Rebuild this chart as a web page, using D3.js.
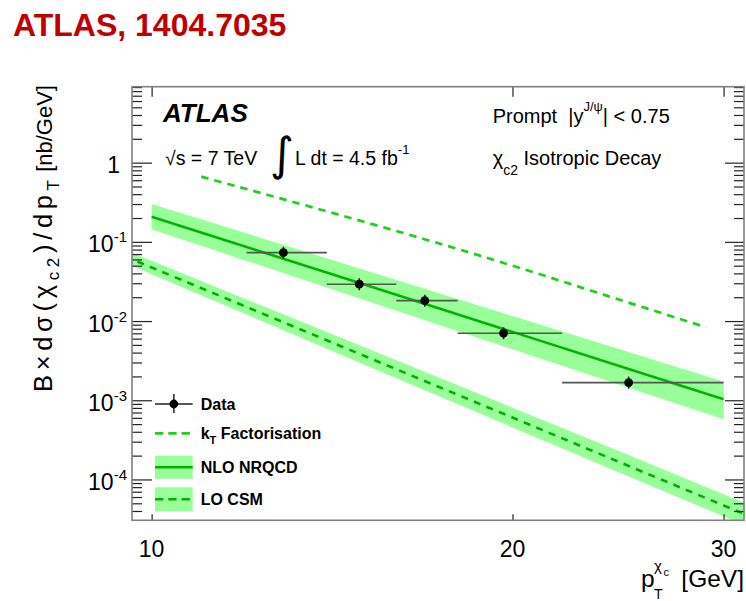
<!DOCTYPE html>
<html>
<head>
<meta charset="utf-8">
<script src="https://cdn.jsdelivr.net/npm/d3@7"></script>
<style>
  html, body { margin: 0; padding: 0; background: #fff; }
  svg { display: block; font-family: "Liberation Sans", Arial, sans-serif; }
</style>
</head>
<body>
<script>
// ---------- data ----------
const binCenters = [12.88, 14.9, 16.9, 19.66, 25.0];
const binLow     = [12, 14, 16, 18, 22];
const binHigh    = [14, 16, 18, 22, 30];
const dataValue  = [0.0731, 0.0292, 0.0181, 0.00702, 0.00167];
const dataErrUp  = [0.0139, 0.0055, 0.0034, 0.00133, 0.00032];
const dataErrDn  = [0.0117, 0.0047, 0.0029, 0.00112, 0.00027];

const nloPt      = [10, 12, 15, 20, 25, 30];
const nloCentral = [0.208, 0.0861, 0.0293, 0.0073, 0.00248, 0.00103];
const nloUp      = [0.301, 0.128, 0.0448, 0.01156, 0.00406, 0.00172];
const nloDown    = [0.144, 0.0575, 0.01875, 0.0044, 0.001435, 0.000574];

const ktPt       = [11, 14, 17, 20, 24, 29];
const ktValue    = [0.666, 0.243, 0.105, 0.0501, 0.0208, 0.00835];

const csmPt      = [9.5, 10, 12, 15, 20, 25, 31.5];
const csmCentral = [0.0656, 0.0475, 0.01507, 0.0037, 0.000605, 0.000148, 3.46e-5];
const csmUp      = [0.0789, 0.0578, 0.01875, 0.00476, 0.000807, 0.000203, 4.78e-5];
const csmDown    = [0.0546, 0.0391, 0.0121, 0.00287, 0.000454, 0.000109, 2.51e-5];

const xTickValues = [10, 20, 30];
const xTickLabels = ["10", "20", "30"];
const yTickValues = [1, 0.1, 0.01, 0.001, 0.0001];
const yTickExp    = ["", "-1", "-2", "-3", "-4"];

const legendLabels = ["Data", "kT Factorisation", "NLO NRQCD", "LO CSM"];

// ---------- layout ----------
const W = 746, H = 601;
const L = 132, R = 744, T = 86.7, B = 520.3;
const bandColor = "#99ff99";
const nloColor = "#00b400";
const ktColor = "#1ad21a";
const csmColor = "#00b000";

const svg = d3.select("body").append("svg").attr("width", W).attr("height", H);
svg.append("rect").attr("width", W).attr("height", H).attr("fill", "#fff");

const x = d3.scaleLog().domain([9.63, 31.2]).range([L, R]);
const y = d3.scaleLog().domain([3.05e-5, 9.1]).range([B, T]);

// title
svg.append("text").attr("x", 13).attr("y", 36)
  .attr("font-size", 32).attr("font-weight", "bold").attr("fill", "#c00000")
  .text("ATLAS, 1404.7035");

// clip
svg.append("clipPath").attr("id", "clip")
  .append("rect").attr("x", L).attr("y", T).attr("width", R - L).attr("height", B - T);
const plot = svg.append("g").attr("clip-path", "url(#clip)");

const area = d3.area().x(d => x(d.pt)).y0(d => y(d.lo)).y1(d => y(d.hi));
const line = d3.line().x(d => x(d.pt)).y(d => y(d.v));

// bands
const csm = csmPt.map((p, i) => ({pt: p, v: csmCentral[i], lo: csmDown[i], hi: csmUp[i]}));
plot.append("path").datum(csm).attr("d", area).attr("fill", bandColor);
const nlo = nloPt.map((p, i) => ({pt: p, v: nloCentral[i], lo: nloDown[i], hi: nloUp[i]}));
plot.append("path").datum(nlo).attr("d", area).attr("fill", bandColor);

plot.append("path").datum(csm).attr("d", line).attr("fill", "none")
  .attr("stroke", csmColor).attr("stroke-width", 2.6).attr("stroke-dasharray", "7,6.5");
plot.append("path").datum(nlo).attr("d", line).attr("fill", "none")
  .attr("stroke", nloColor).attr("stroke-width", 2.6);

// kT factorisation
const kt = ktPt.map((p, i) => ({pt: p, v: ktValue[i]}));
const ktLine = d3.line().x(d => x(d.pt)).y(d => y(d.v)).curve(d3.curveMonotoneX);
plot.append("path").datum(kt).attr("d", ktLine).attr("fill", "none")
  .attr("stroke", ktColor).attr("stroke-width", 2.7).attr("stroke-dasharray", "7.5,6");

// data points
const pts = binCenters.map((c, i) => ({c, lo: binLow[i], hi: binHigh[i], v: dataValue[i], up: dataErrUp[i], dn: dataErrDn[i]}));
const pg = plot.append("g");
pg.selectAll(".h").data(pts).join("line")
  .attr("x1", d => x(d.lo)).attr("x2", d => x(d.hi))
  .attr("y1", d => y(d.v)).attr("y2", d => y(d.v))
  .attr("stroke", "#555").attr("stroke-width", 1.6);
pg.selectAll(".v").data(pts).join("line")
  .attr("x1", d => x(d.c)).attr("x2", d => x(d.c))
  .attr("y1", d => y(d.v + d.up)).attr("y2", d => y(d.v - d.dn))
  .attr("stroke", "#222").attr("stroke-width", 1.6);
pg.selectAll("circle").data(pts).join("circle")
  .attr("cx", d => x(d.c)).attr("cy", d => y(d.v)).attr("r", 4.4).attr("fill", "#000");

// ---------- axes ----------
const minorY = y.ticks().filter(v => Math.abs(Math.log10(v) - Math.round(Math.log10(v))) > 1e-6);
function styleAxis(g) {
  g.select(".domain").remove();
  g.selectAll(".tick line").attr("stroke", "#222").attr("stroke-width", 1.2);
  g.selectAll(".tick text").remove();
}
svg.append("g").attr("transform", `translate(${L},0)`)
  .call(d3.axisRight(y).tickValues(yTickValues).tickSize(20).tickFormat("")).call(styleAxis);
svg.append("g").attr("transform", `translate(${L},0)`)
  .call(d3.axisRight(y).tickValues(minorY).tickSize(10).tickFormat("")).call(styleAxis);
svg.append("g").attr("transform", `translate(${R},0)`)
  .call(d3.axisLeft(y).tickValues(yTickValues).tickSize(19).tickFormat("")).call(styleAxis);
svg.append("g").attr("transform", `translate(${R},0)`)
  .call(d3.axisLeft(y).tickValues(minorY).tickSize(10).tickFormat("")).call(styleAxis);
svg.append("g").attr("transform", `translate(0,${B})`)
  .call(d3.axisTop(x).tickValues(xTickValues).tickSize(6).tickFormat("")).call(styleAxis);
svg.append("g").attr("transform", `translate(0,${T})`)
  .call(d3.axisBottom(x).tickValues(xTickValues).tickSize(10).tickFormat("")).call(styleAxis);

// frame
svg.append("rect").attr("x", L).attr("y", T).attr("width", R - L).attr("height", B - T)
  .attr("fill", "none").attr("stroke", "#808080").attr("stroke-width", 1.6);

// x tick labels
svg.selectAll(".xl").data(xTickValues).join("text")
  .attr("x", d => x(d)).attr("y", 557).attr("text-anchor", "middle")
  .attr("font-size", 23).attr("fill", "#000")
  .text((d, i) => xTickLabels[i]);

// y tick labels
yTickValues.forEach((v, i) => {
  const t = svg.append("text").attr("y", y(v) + 10.5).attr("font-size", 23).attr("fill", "#000");
  if (yTickExp[i] === "") {
    t.attr("x", 120).attr("text-anchor", "end").text("1");
  } else {
    t.attr("x", 127).attr("text-anchor", "end");
    t.append("tspan").text("10");
    t.append("tspan").attr("font-size", 15).attr("dy", -10).text(yTickExp[i]);
  }
});

// x axis title
const xt = svg.append("g");
xt.append("text").attr("x", 641).attr("y", 587).attr("font-size", 24.5).text("p");
xt.append("text").attr("x", 654).attr("y", 599).attr("font-size", 14).text("T");
xt.append("text").attr("x", 654).attr("y", 571).attr("font-size", 15).text("χ");
xt.append("text").attr("x", 663.5).attr("y", 576).attr("font-size", 11).text("c");
xt.append("text").attr("x", 744).attr("y", 587).attr("font-size", 24.5).attr("text-anchor", "end").text("[GeV]");

// y axis title
const yt1 = svg.append("text").attr("transform", "translate(52,392) rotate(-90)")
  .attr("font-size", 25.5).attr("fill", "#000")
  .attr("textLength", 212).attr("lengthAdjust", "spacing");
yt1.append("tspan").text("B×dσ(χ");
yt1.append("tspan").attr("font-size", 17).attr("dy", 7).text("c2");
yt1.append("tspan").attr("dy", -7).text(")/dp");
yt1.append("tspan").attr("font-size", 17).attr("dy", 7).text("T");
svg.append("text").attr("transform", "translate(52,85) rotate(-90)")
  .attr("text-anchor", "end").attr("font-size", 22).attr("fill", "#000")
  .text("[nb/GeV]");

// ---------- in-plot labels ----------
svg.append("text").attr("x", 163).attr("y", 121.7).attr("font-size", 26)
  .attr("font-weight", "bold").attr("font-style", "italic").text("ATLAS");
svg.append("text").attr("x", 165).attr("y", 165).attr("font-size", 19.5).text("√s = 7 TeV");
svg.append("text").attr("x", 270).attr("y", 170).attr("font-size", 46)
  .attr("font-family", "'DejaVu Sans', sans-serif").text("∫");
const lum = svg.append("text").attr("x", 295).attr("y", 165).attr("font-size", 19.5);
lum.append("tspan").text("L dt = 4.5 fb");
lum.append("tspan").attr("font-size", 13).attr("dy", -11).text("-1");

const pr = svg.append("text").attr("x", 492.7).attr("y", 122.7).attr("font-size", 20);
pr.append("tspan").text("Prompt\u00a0\u00a0|y");
pr.append("tspan").attr("font-size", 13).attr("dy", -12).text("J/ψ");
pr.append("tspan").attr("dy", 12).text("| < 0.75");

const ch = svg.append("text").attr("x", 492.7).attr("y", 165).attr("font-size", 20);
ch.append("tspan").text("χ");
ch.append("tspan").attr("font-size", 14).attr("dy", 10).text("c2");
ch.append("tspan").attr("dy", -10).text(" Isotropic Decay");

// ---------- legend ----------
const lg = svg.append("g");
const lx0 = 155, lx1 = 192.7, tx = 200.7;
const rowY = [404, 433.3, 467.3, 499.3];
lg.append("line").attr("x1", lx0).attr("x2", lx1).attr("y1", rowY[0]).attr("y2", rowY[0]).attr("stroke", "#222").attr("stroke-width", 1.5);
lg.append("line").attr("x1", (lx0 + lx1) / 2).attr("x2", (lx0 + lx1) / 2).attr("y1", rowY[0] - 10).attr("y2", rowY[0] + 9).attr("stroke", "#222").attr("stroke-width", 1.5);
lg.append("circle").attr("cx", (lx0 + lx1) / 2).attr("cy", rowY[0]).attr("r", 4.4).attr("fill", "#000");
lg.append("line").attr("x1", lx0).attr("x2", lx1).attr("y1", rowY[1]).attr("y2", rowY[1])
  .attr("stroke", ktColor).attr("stroke-width", 2.7).attr("stroke-dasharray", "8.3,5");
lg.append("rect").attr("x", lx0).attr("y", rowY[2] - 11.5).attr("width", lx1 - lx0).attr("height", 23).attr("fill", bandColor);
lg.append("line").attr("x1", lx0).attr("x2", lx1).attr("y1", rowY[2]).attr("y2", rowY[2]).attr("stroke", nloColor).attr("stroke-width", 2.6);
lg.append("rect").attr("x", lx0).attr("y", rowY[3] - 12).attr("width", lx1 - lx0).attr("height", 24).attr("fill", bandColor);
lg.append("line").attr("x1", lx0).attr("x2", lx1).attr("y1", rowY[3]).attr("y2", rowY[3])
  .attr("stroke", csmColor).attr("stroke-width", 2.6).attr("stroke-dasharray", "8.3,5");

const lt = rowY.map(v => v + 5.8);
lg.append("text").attr("x", tx).attr("y", lt[0]).attr("font-size", 16).attr("font-weight", "bold").text(legendLabels[0]);
const kl = lg.append("text").attr("x", tx).attr("y", lt[1]).attr("font-size", 16).attr("font-weight", "bold");
kl.append("tspan").text("k");
kl.append("tspan").attr("font-size", 11).attr("dy", 5).text("T");
kl.append("tspan").attr("dy", -5).text(" Factorisation");
lg.append("text").attr("x", tx).attr("y", lt[2]).attr("font-size", 16).attr("font-weight", "bold").text(legendLabels[2]);
lg.append("text").attr("x", tx).attr("y", lt[3]).attr("font-size", 16).attr("font-weight", "bold").text(legendLabels[3]);
</script>
</body>
</html>
